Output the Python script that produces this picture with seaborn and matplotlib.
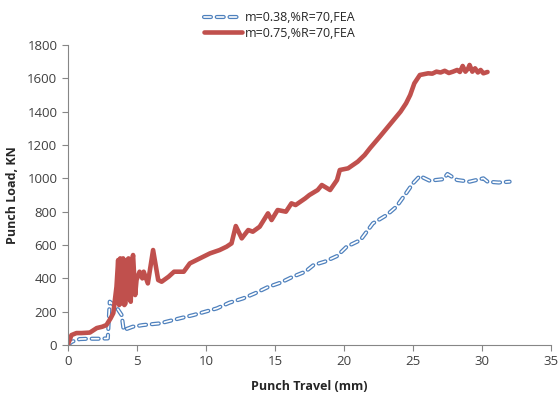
import matplotlib
matplotlib.use("Agg")
import matplotlib.pyplot as plt
import seaborn as sns
import pandas as pd
from matplotlib.lines import Line2D

# ---- data ----
red_x = [0, 0.27, 0.63, 1.0, 1.6, 2.1, 2.5, 2.8, 3.1, 3.3, 3.53,
         3.65, 3.72, 3.8, 3.87, 3.95, 4.01, 4.1, 4.18, 4.3, 4.4, 4.48, 4.56, 4.65,
         4.73, 4.88, 4.98, 5.2, 5.4, 5.5, 5.8,
         6.18, 6.55, 6.8, 7.3, 7.7, 8.1, 8.4, 8.84, 9.57, 10.3, 11.0, 11.5, 11.86,
         12.17, 12.6, 13.07, 13.4, 13.9, 14.5, 14.76, 15.2, 15.8, 16.2, 16.5, 17.2,
         17.5, 17.9, 18.1, 18.4, 18.6, 19.0, 19.5, 19.7, 20.3, 21.0, 21.5, 21.9,
         22.6, 23.1, 23.6, 24.1, 24.5, 24.8, 25.1, 25.5, 25.8, 26.1, 26.4, 26.7,
         27.0, 27.3, 27.6, 27.9, 28.2, 28.4, 28.6, 28.8, 29.0, 29.1, 29.3, 29.5,
         29.7, 29.9, 30.1, 30.4]
red_y = [0, 60, 72, 72, 75, 102, 110, 120, 160, 192, 350,
         510, 240, 520, 250, 500, 520, 240, 250, 510, 520, 280, 260, 500,
         540, 300, 390, 440, 400, 440, 370,
         570, 390, 380, 410, 440, 440, 440, 490, 520, 550, 570, 590, 610,
         714, 640, 690, 680, 710, 790, 750, 810, 800, 850, 840, 880,
         900, 920, 930, 960, 950, 930, 990, 1050, 1060, 1100, 1140, 1182,
         1250, 1300, 1350, 1400, 1450, 1500, 1570, 1620, 1625, 1630, 1628, 1640,
         1635, 1645, 1632, 1640, 1650, 1638, 1674, 1640, 1660, 1680, 1640, 1660,
         1635, 1650, 1630, 1638]

blue_x = [0, 0.3, 0.87, 1.5, 2.2, 2.9, 3.04, 3.5, 3.9, 4.05, 4.7, 5.45, 6.67,
          8.1, 9.1, 10.8, 11.7, 12.7, 13.55, 14.5, 15.4, 16.3, 17.2, 17.8, 18.6,
          19.5, 20.2, 21.2, 22.1, 23.1, 23.8, 24.5, 25.0, 25.5, 26.2, 27.2, 27.5,
          28.2, 29.1, 29.6, 30.1, 30.4, 31.2, 32.0]
blue_y = [0, 20, 36, 38, 38, 40, 260, 230, 180, 90, 110, 120, 130,
          160, 180, 220, 254, 280, 310, 348, 374, 410, 440, 480, 500,
          534, 590, 630, 730, 780, 830, 910, 970, 1014, 986, 995, 1026,
          990, 980, 990, 1000, 980, 975, 980]

labels = ["m=0.38,%R=70,FEA", "m=0.75,%R=70,FEA"]
x_label = "Punch Travel (mm)"
y_label = "Punch Load, KN"

red_df = pd.DataFrame({"x": red_x, "y": red_y})
blue_df = pd.DataFrame({"x": blue_x, "y": blue_y})

sns.set_style("white")
plt.rcParams["font.family"] = ["Open Sans", "DejaVu Sans"]
plt.rcParams["lines.scale_dashes"] = False

BLUE = "#4f81bd"
RED = "#c0504d"

fig = plt.figure(figsize=(5.6, 3.98), dpi=100)
ax = fig.add_axes([0.121, 0.133, 0.863, 0.754])

dash = (5.0, 4.2)
sns.lineplot(data=blue_df, x="x", y="y", ax=ax, color=BLUE, lw=3.0,
             sort=False, estimator=None)
ax.lines[-1].set_linestyle((0, dash))
ax.lines[-1].set_dash_capstyle("round")
sns.lineplot(data=blue_df, x="x", y="y", ax=ax, color="white", lw=1.2,
             sort=False, estimator=None)
ax.lines[-1].set_linestyle((0, dash))
ax.lines[-1].set_dash_capstyle("round")

sns.lineplot(data=red_df, x="x", y="y", ax=ax, color=RED, lw=3.3,
             sort=False, estimator=None)
ax.lines[-1].set_solid_joinstyle("round")

ax.set_xlim(0, 35)
ax.set_ylim(0, 1800)
ax.set_xticks(range(0, 36, 5))
ax.set_yticks(range(0, 1801, 200))
ax.set_xlabel(x_label, fontsize=9, fontweight="bold", labelpad=8)
ax.set_ylabel(y_label, fontsize=9, fontweight="bold", labelpad=6)
ax.tick_params(axis="both", labelsize=9.5, length=4, width=0.8,
               color="#868686", direction="out", labelcolor="#404040")
ax.tick_params(axis="x", bottom=True)
ax.tick_params(axis="y", left=True)
for s in ["top", "right"]:
    ax.spines[s].set_visible(False)
for s in ["left", "bottom"]:
    ax.spines[s].set_color("#868686")
    ax.spines[s].set_linewidth(0.8)

h_blue_o = Line2D([], [], color=BLUE, lw=3.0, linestyle=(0, dash), dash_capstyle="round")
h_blue_i = Line2D([], [], color="white", lw=1.2, linestyle=(0, dash), dash_capstyle="round")
h_red = Line2D([], [], color=RED, lw=3.3)
leg = fig.legend([(h_blue_o, h_blue_i), h_red], labels, loc="upper center",
                 bbox_to_anchor=(0.5, 1.0), frameon=False, fontsize=9,
                 handlelength=3.0, handletextpad=0.3, labelspacing=0.2)

fig.savefig("out.png", dpi=100)
